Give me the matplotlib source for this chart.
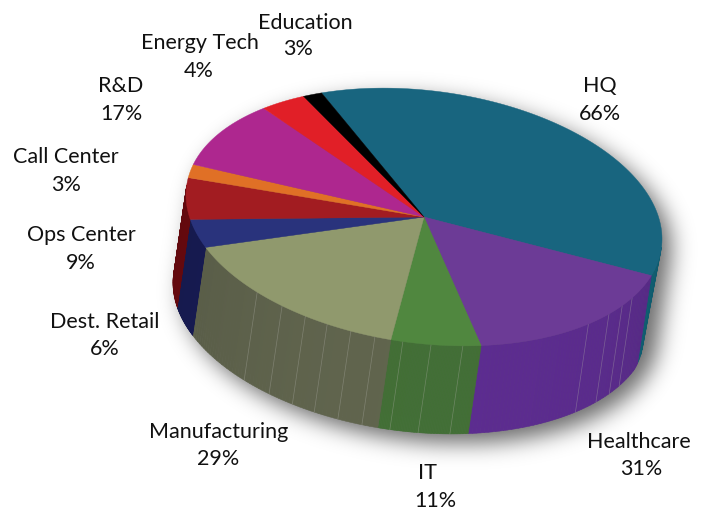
import numpy as np
import matplotlib
matplotlib.use('Agg')
import matplotlib.pyplot as plt
from matplotlib.path import Path
from matplotlib.patches import Polygon

plt.rcParams['font.family'] = ['Lato', 'DejaVu Sans']

categories = ['HQ', 'Healthcare', 'IT', 'Manufacturing', 'Dest. Retail',
              'Ops Center', 'Call Center', 'R&D', 'Energy Tech', 'Education']
values = [66, 31, 11, 29, 6, 9, 3, 17, 4, 3]

top_colors = ['#18657f', '#6c3b96', '#50873f', '#90996d', '#29337c',
              '#a21c21', '#e07026', '#ae278f', '#e11f27', '#000000']
side_colors = ['#0f5f72', '#582a89', '#3f6a33', '#5c604a', '#171b52',
               '#6a0a0f', '#a0501c', '#7a1a66', '#a01519', '#000000']
name_pos = [(600, 86), (639, 442), (427, 473), (219, 432), (105, 322),
            (81, 235), (66, 157), (121, 86), (200, 43), (305, 23)]
pct_pos = [(600, 114), (641, 469), (435, 501), (218, 459), (105, 349),
           (81, 263), (66, 185), (121, 114), (199, 71), (298, 49)]

# seams drawn on the pie wall, in screen degrees
facets = [134.5, 126.6, 119.9, 114, 107.9, 101.9, 95.1, 88.3, 80.6,
          46.3, 39, 33.6, 29]

# ellipse of the top face
cx, cy = 424, 218
a, c, d = 238, 22, 127
ox, oy = -13, 88
start = -115.5

# the drawing is not a true projection, these pull the slice edges onto it
warp_at = [0, 132.5, 195.5, 215.5, 275.5, 311.5, 345.5, 352.5, 360]
warp_by = [0, 0, -3.5, -3.7, -3.5, -2, -3, 1.4, 0]


def warp(t):
    return t + np.interp(t - start, warp_at, warp_by)


def rim(t):
    r = np.radians(t)
    return np.c_[cx + a*np.cos(r), cy + c*np.cos(r) + d*np.sin(r)]


def lower(t):
    # base of the wall, the right hand side pulls in a little
    pts = rim(t)
    pts[:, 0] += ox - 6*np.clip((20 - t)/20, 0, 1)
    pts[:, 1] += oy
    return pts


def shade(col, t):
    rgb = np.array(matplotlib.colors.to_rgb(col))
    f = 1 + 0.11*np.cos(np.radians(t - 85)) - 0.06
    return np.clip(rgb*f, 0, 1)


def wall_visible(t):
    r = np.radians(t)
    dx = -a*np.sin(r)
    dy = -c*np.sin(r) + d*np.cos(r)
    return dx*oy - dy*ox < 0


fig = plt.figure(figsize=(7.07, 5.10), dpi=100)
ax = fig.add_axes([0, 0, 1, 1])

# soft shadow under the pie
ts = np.linspace(0, 360, 361)
yy, xx = np.mgrid[0:510, 0:707]
mask = np.zeros(xx.shape)
for s in np.linspace(0, 1, 12):
    p = Path(rim(ts) + [ox*s + 9, oy*s + 9])
    mask = np.maximum(mask, p.contains_points(np.c_[xx.ravel(), yy.ravel()]).reshape(xx.shape))
kernel = np.exp(-np.arange(-40, 41)**2/(2*11.0**2))
kernel /= kernel.sum()
mask = np.apply_along_axis(lambda m: np.convolve(m, kernel, mode='same'), 0, mask)
mask = np.apply_along_axis(lambda m: np.convolve(m, kernel, mode='same'), 1, mask)
shadow = np.zeros(xx.shape + (4,))
shadow[..., 3] = mask*0.58
ax.imshow(shadow, extent=(0, 707, 510, 0), aspect='auto', zorder=1, interpolation='bilinear')
ax.set_xlim(0, 707)
ax.set_ylim(510, 0)
ax.axis('off')

edges = warp(start + np.r_[0, np.cumsum(values)]/np.sum(values)*360)

# walls, small strips so the shade can change along the rim
for i in range(len(values)):
    t = np.linspace(edges[i], edges[i+1], 60)
    for t0, t1 in zip(t[:-1], t[1:]):
        if not wall_visible((t0 + t1)/2):
            continue
        seg = np.array([t0, t1])
        poly = np.r_[rim(seg), lower(seg)[::-1]]
        col = shade(side_colors[i], (t0 + t1)/2)
        ax.add_patch(Polygon(poly, closed=True, fc=col, ec=col, lw=0.4, zorder=2))

for t in facets:
    p = rim(np.array([t]))[0]
    ax.plot([p[0], p[0] + ox], [p[1], p[1] + oy], color='#b0b0a8', lw=0.5, alpha=0.4, zorder=3)

# top face
for i in range(len(values)):
    t = np.linspace(edges[i], edges[i+1], 120)
    poly = np.r_[[[cx, cy]], rim(t)]
    ax.add_patch(Polygon(poly, closed=True, fc=top_colors[i], ec=top_colors[i], lw=0.3, zorder=4))

for name, v, p0, p1 in zip(categories, values, name_pos, pct_pos):
    ax.text(p0[0], p0[1], name, ha='center', va='center', fontsize=15.5, color='#111111', zorder=5)
    ax.text(p1[0], p1[1], f'{v}%', ha='center', va='center', fontsize=15.5, color='#111111', zorder=5)

fig.savefig('out.png', dpi=100)
